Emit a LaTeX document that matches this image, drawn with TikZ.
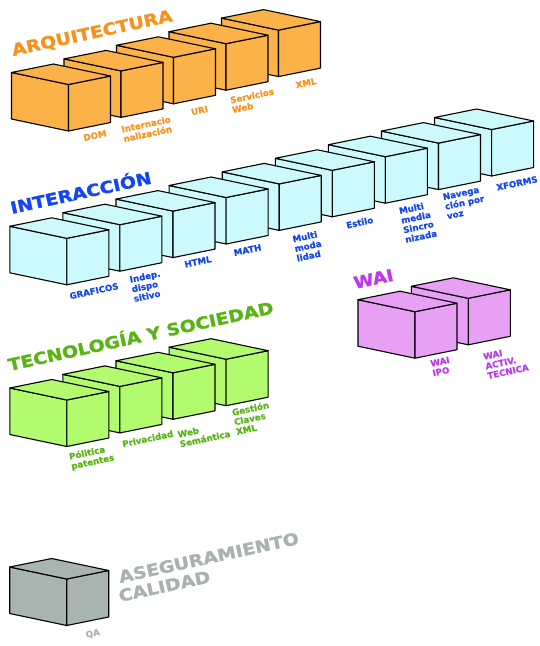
\documentclass[tikz,border=0pt]{standalone}
\usepackage{fontspec}
\setsansfont{DejaVu Sans}
\newfontfamily\ttlfont{DejaVu Sans Bold}[FakeBold=1.3]
\newfontfamily\lblfont{DejaVu Sans Bold}[FakeBold=0.5]
\usepackage{graphicx}
\definecolor{archfill}{RGB}{251,178,72}
\definecolor{archtext}{RGB}{247,146,28}
\definecolor{intfill}{RGB}{204,250,252}
\definecolor{inttext}{RGB}{20,70,240}
\definecolor{tecfill}{RGB}{178,250,110}
\definecolor{tectext}{RGB}{88,180,18}
\definecolor{waifill}{RGB}{232,160,245}
\definecolor{waitext}{RGB}{190,55,238}
\definecolor{qafill}{RGB}{168,180,176}
\definecolor{qatext}{RGB}{168,178,178}
\tikzset{
  cubeface/.style={draw=black, line width=1.1pt, line join=round},
  pics/cube/.style={code={
    \path[cubeface, fill=#1] (-57,-12) -- (0,0) -- (0,46.5) -- (-57,34.5) -- cycle;
    \path[cubeface, fill=#1] (0,0) -- (42,-8.5) -- (42,38) -- (0,46.5) -- cycle;
    \path[cubeface, fill=#1] (-57,-12) -- (0,0) -- (42,-8.5) -- (-15,-20.5) -- cycle;
  }},
  lbl/.style={font=\lblfont\fontsize{8.7}{9.8}\selectfont, align=left, inner sep=0pt, rotate=12},
  ttl/.style={font=\ttlfont\fontsize{16.5}{18}\selectfont, inner sep=0pt, anchor=base west, rotate=12.3},
}
\begin{document}
\begin{tikzpicture}[x=1pt,y=-1pt]
\useasboundingbox (0,0) rectangle (539,646);
% ARQUITECTURA
\foreach \i in {4,3,2,1,0} {\pic (arq\i) at ({68.5+52.5*\i},{84.5-13.6*\i}) {cube=archfill};}
\node[ttl, text=archtext] (tarq) at (13,56) {\scalebox{1.14}[1]{ARQUITECTURA}};
\begin{scope}[every node/.append style={lbl, text=archtext}]
\node (ldom) at (95,135.5) {DOM};
\node (lint) at (147,129) {Internacio\\nalización};
\node (luri) at (199.5,110.5) {URI};
\node (lser) at (253,100.5) {Servicios\\Web};
\node (lxml) at (306,83) {XML};
\end{scope}
% INTERACCION
\foreach \i in {8,7,...,0} {\pic (int\i) at ({66.8+53.1*\i},{238.3-13.6*\i}) {cube=intfill};}
\node[ttl, text=inttext] (tint) at (11.7,214) {\scalebox{1.14}[1]{INTERACCIÓN}};
\begin{scope}[every node/.append style={lbl, text=inttext}]
\node (lgra) at (94,291) {GRAFICOS};
\node (lind) at (147,286) {Indep.\\dispo\\sitivo};
\node (lhtm) at (198,261.7) {HTML};
\node (lmat) at (247.5,250) {MATH};
\node (lmmo) at (308,246) {Multi\\moda\\lidad};
\node (lest) at (359.7,222.5) {Estilo};
\node (lmme) at (418,222) {Multi\\media\\Sincro\\nizada};
\node (lnav) at (464.5,202.5) {Navega\\ción por\\voz};
\node (lxfo) at (517,183.3) {XFORMS};
\end{scope}
% TECNOLOGIA
\foreach \i in {3,2,1,0} {\pic (tec\i) at ({66.8+53.1*\i},{400-13.6*\i}) {cube=tecfill};}
\node[ttl, text=tectext] (ttec) at (9.3,371) {\scalebox{1.14}[1]{TECNOLOGÍA Y SOCIEDAD}};
\begin{scope}[every node/.append style={lbl, text=tectext}]
\node (lpol) at (91.7,457.5) {Pólitica\\patentes};
\node (lpri) at (147.7,438.7) {Privacidad};
\node (lweb) at (204,434) {Web\\Semántica};
\node (lges) at (252.5,418) {Gestión\\Claves\\XML};
\end{scope}
% WAI
\foreach \i in {1,0} {\pic (wai\i) at ({415+53.3*\i},{311.7-13.4*\i}) {cube=waifill};}
\node[ttl, text=waitext] (twai) at (355,289) {\scalebox{1.1}[1]{WAI}};
\begin{scope}[every node/.append style={lbl, text=waitext}]
\node (lipo) at (441,366.5) {WAI\\IPO};
\node (lact) at (506,362) {WAI\\ACTIV.\\TECNICA};
\end{scope}
% QA
\pic (qa) at (66.7,579) {cube=qafill};
\node[ttl, text=qatext] (tase) at (120,583) {\scalebox{1.14}[1]{ASEGURAMIENTO}};
\node[ttl, text=qatext] (tcal) at (120,602) {\scalebox{1.14}[1]{CALIDAD}};
\node[lbl, text=qatext] (lqa) at (92.8,633.8) {QA};
\end{tikzpicture}
\end{document}
